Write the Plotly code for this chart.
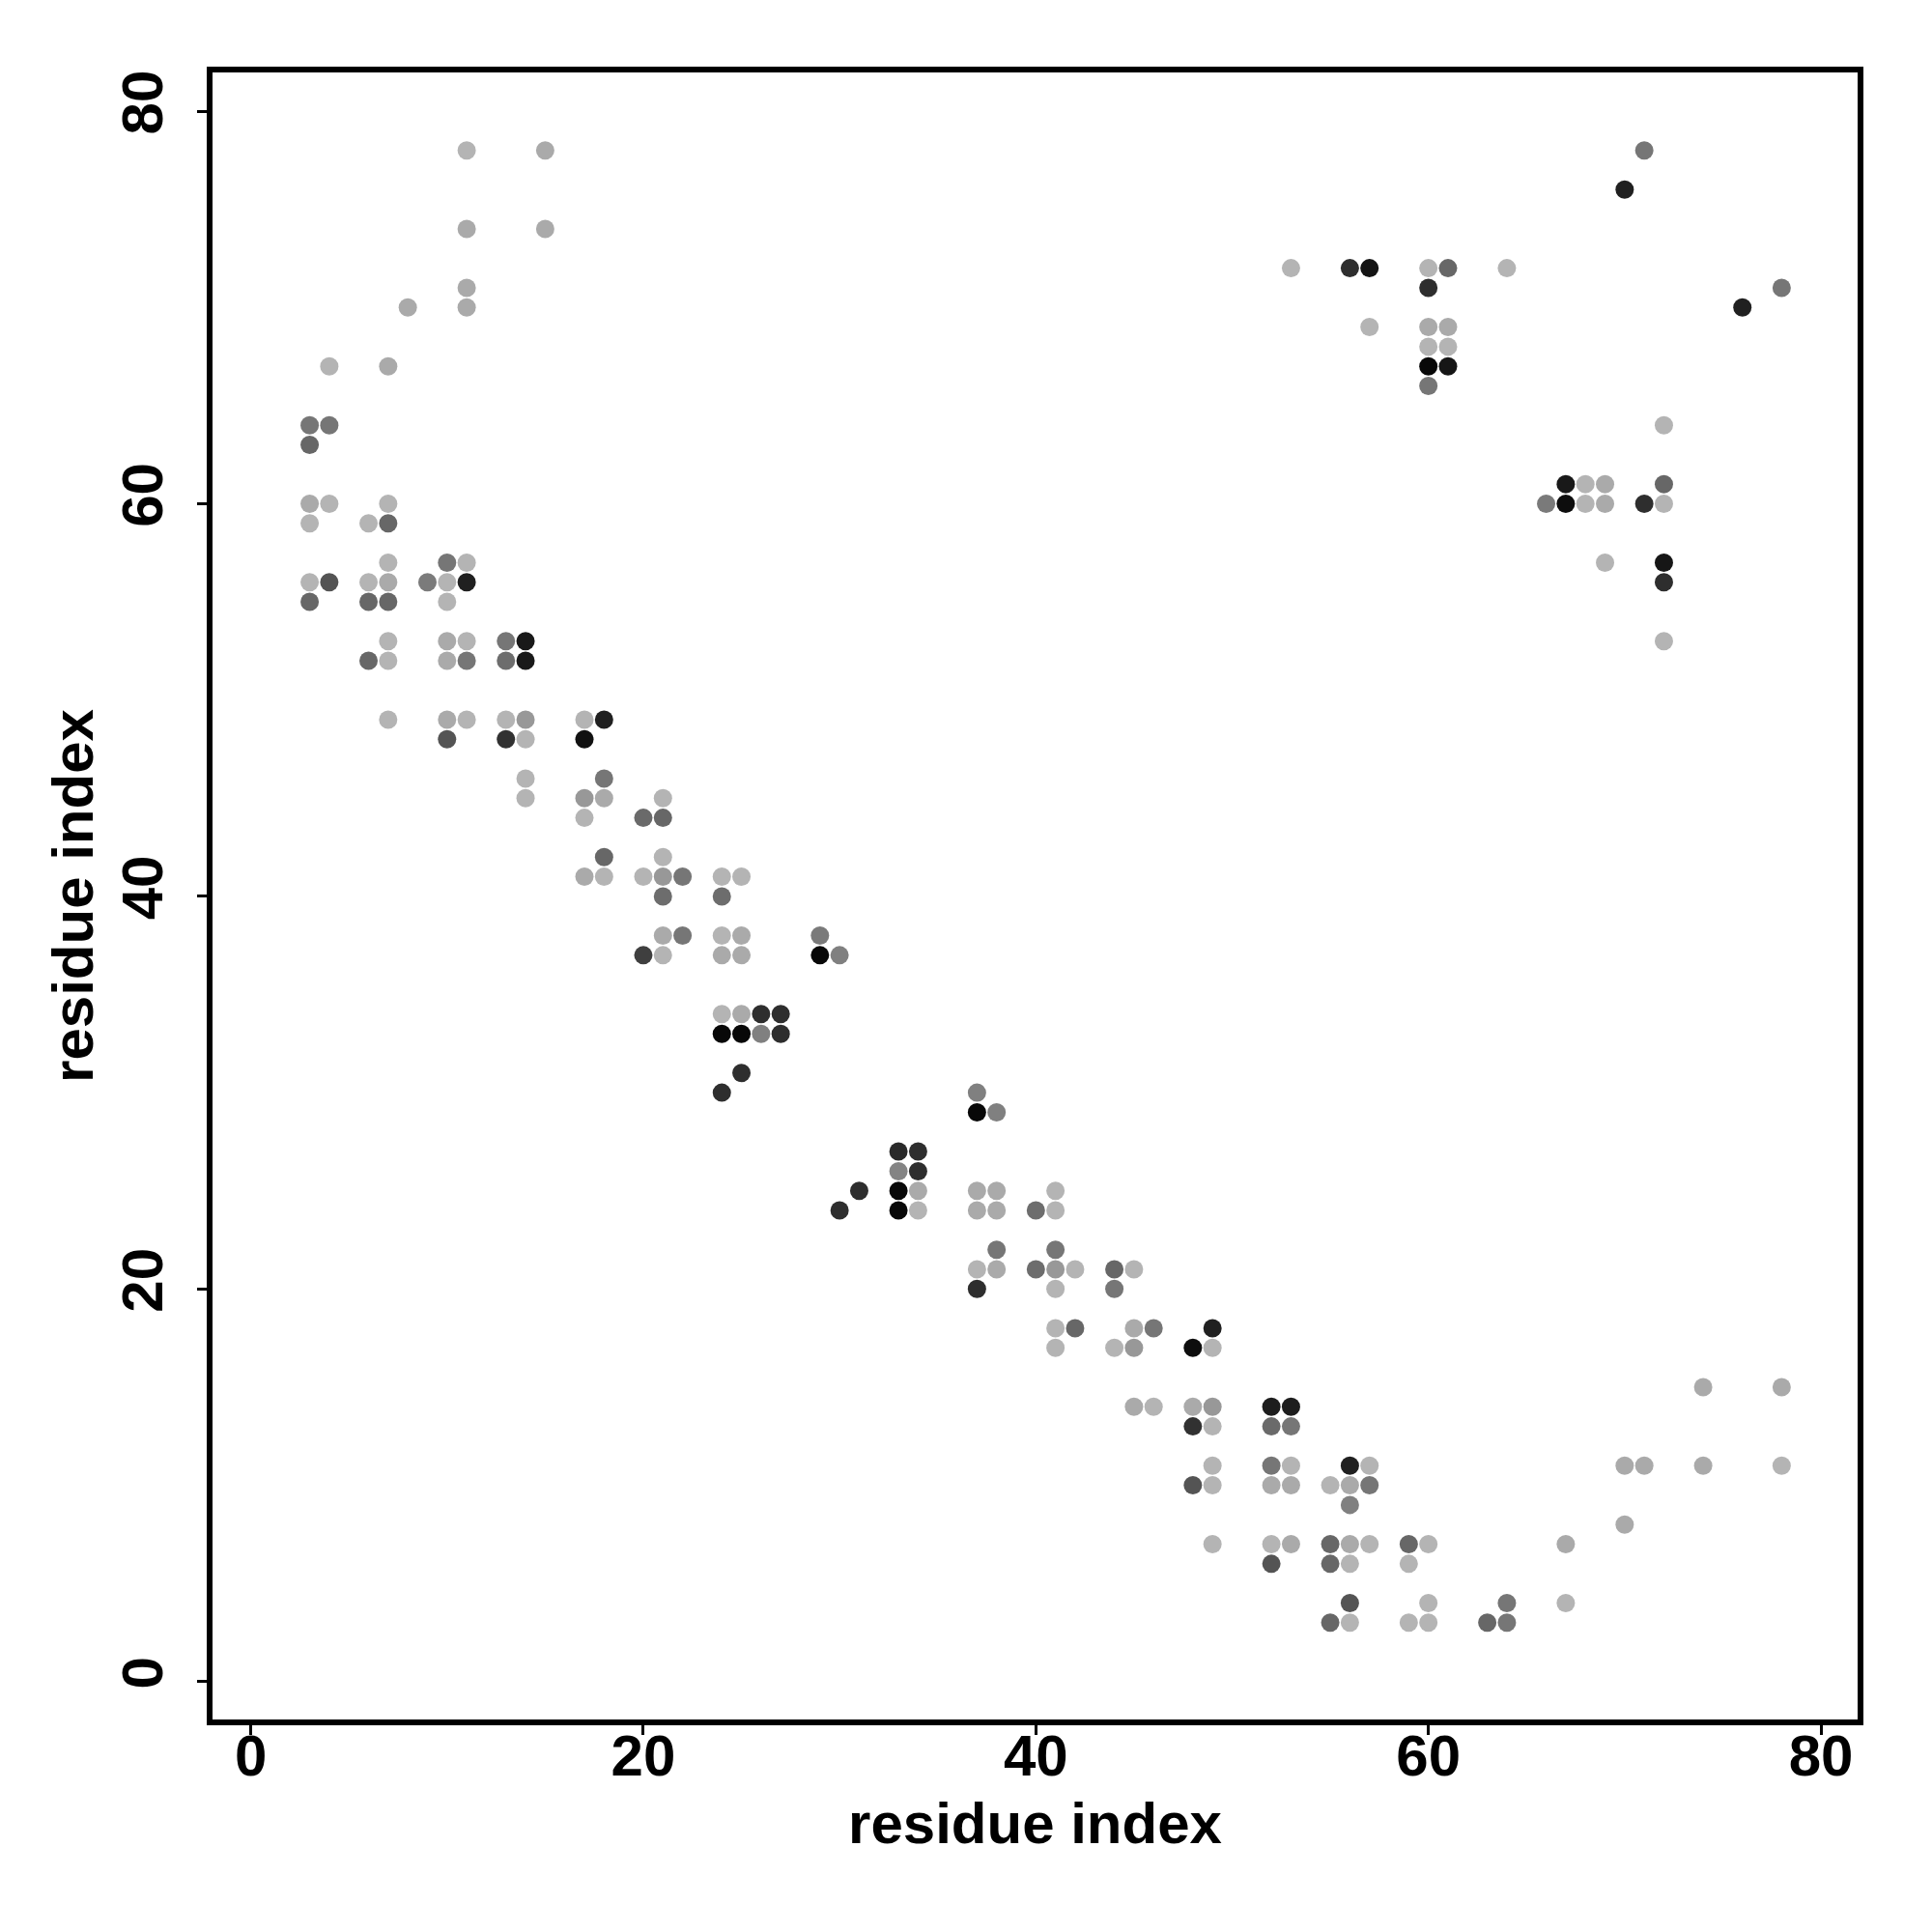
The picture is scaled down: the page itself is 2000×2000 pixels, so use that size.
import plotly.graph_objects as go

# residue pairs (i, j) and a contact score (0 = weak/light grey, 1 = strong/black)
res_i = [11, 15, 11, 15, 11, 11, 8, 4, 7, 3, 4, 3,
         3, 4, 3, 7, 6, 7,
         7, 3, 4, 3, 6, 7, 6, 7,
         10, 11, 9, 10, 11, 10,
         7, 6, 7,
         10, 11, 10, 11,
         13, 14, 13, 14,
         7, 10, 11, 10,
         13, 14, 13, 14,
         17, 18, 17,
         14, 14,
         18, 17, 18, 17,
         21, 20, 21,
         18, 17, 18,
         21, 20, 21, 22, 21,
         24, 25, 24,
         21, 22, 20, 21,
         24, 25, 24, 25,
         29, 29, 30,
         24, 25, 26, 27,
         24, 25, 26, 27,
         25, 24,
         37, 37, 38,
         33, 34, 33, 34, 33, 34, 33, 34,
         31, 30,
         37, 38, 37, 38,
         40, 41, 41,
         38, 37, 38, 37,
         41, 40, 41, 41, 42,
         44, 45, 44,
         41, 42, 41,
         45, 46, 44, 45,
         49, 48, 49,
         45, 46,
         48, 49, 48, 49,
         52, 53, 52, 53,
         49, 48, 49,
         52, 53, 52, 53,
         56, 57, 55, 56, 57, 56,
         49, 52, 53, 52,
         55, 56, 57, 55, 56,
         59, 60, 59,
         67, 56, 55, 56,
         60, 59, 60,
         64, 63, 64,
         67,
         74, 78, 70, 71, 74, 78, 70,
         71, 70, 53, 56, 57, 60, 61, 60, 64,
         57, 60, 61, 60, 61, 60, 61, 60,
         76, 78,
         72, 72, 71, 72,
         67, 68, 69, 66, 67, 68, 69,
         69, 72, 72, 72]

res_j = [78, 78, 74, 74, 71, 70, 70, 67, 67, 64, 64, 63,
         60, 60, 59, 60, 59, 59,
         57, 56, 56, 55, 56, 56, 55, 55,
         57, 57, 56, 56, 56, 55,
         53, 52, 52,
         53, 53, 52, 52,
         53, 53, 52, 52,
         49, 49, 49, 48,
         49, 49, 48, 48,
         49, 49, 48,
         46, 45,
         46, 45, 45, 44,
         45, 44, 44,
         42, 41, 41,
         42, 41, 41, 41, 40,
         41, 41, 40,
         38, 38, 37, 37,
         38, 38, 37, 37,
         38, 37, 37,
         34, 34, 34, 34,
         33, 33, 33, 33,
         31, 30,
         30, 29, 29,
         27, 27, 26, 26, 25, 25, 24, 24,
         25, 24,
         25, 25, 24, 24,
         24, 25, 24,
         22, 21, 21, 20,
         22, 21, 21, 20, 21,
         21, 21, 20,
         18, 18, 17,
         18, 18, 17, 17,
         18, 17, 17,
         14, 14,
         14, 14, 13, 13,
         14, 14, 13, 13,
         11, 10, 10,
         11, 11, 10, 10,
         11, 11, 10, 10, 10, 9,
         7, 7, 7, 6,
         7, 7, 7, 6, 6,
         7, 7, 6,
         7, 4, 3, 3,
         4, 3, 3,
         4, 3, 3,
         4,
         15, 15, 11, 11, 11, 11, 8,
         78, 76, 72, 72, 72, 72, 72, 71, 72,
         69, 69, 69, 68, 68, 67, 67, 66,
         70, 71,
         64, 61, 60, 60,
         61, 61, 61, 60, 60, 60, 60,
         57, 57, 56, 53]

score = [0.00, 0.06, 0.06, 0.06, 0.06, 0.06, 0.06, 0.00, 0.06, 0.36, 0.36, 0.45,
         0.06, 0.00, 0.00, 0.00, 0.00, 0.45,
         0.00, 0.00, 0.56, 0.45, 0.00, 0.06, 0.45, 0.45,
         0.36, 0.00, 0.33, 0.00, 0.86, 0.00,
         0.00, 0.45, 0.00,
         0.06, 0.00, 0.06, 0.36,
         0.36, 0.90, 0.41, 0.90,
         0.00, 0.06, 0.00, 0.56,
         0.00, 0.16, 0.76, 0.00,
         0.00, 0.86, 0.95,
         0.00, 0.00,
         0.36, 0.16, 0.06, 0.00,
         0.00, 0.43, 0.45,
         0.45, 0.06, 0.00,
         0.00, 0.00, 0.16, 0.36, 0.41,
         0.00, 0.00, 0.41,
         0.06, 0.36, 0.68, 0.00,
         0.00, 0.06, 0.06, 0.06,
         0.34, 1.00, 0.30,
         0.00, 0.06, 0.78, 0.78,
         1.00, 1.00, 0.30, 0.78,
         0.78, 0.78,
         0.30, 1.00, 0.30,
         0.80, 0.78, 0.28, 0.78, 1.00, 0.06, 1.00, 0.00,
         0.78, 0.78,
         0.06, 0.06, 0.06, 0.06,
         0.41, 0.00, 0.00,
         0.36, 0.00, 0.06, 0.78,
         0.36, 0.41, 0.16, 0.00, 0.00,
         0.45, 0.00, 0.36,
         0.00, 0.45, 0.00,
         0.06, 0.36, 0.00, 0.16,
         0.86, 0.97, 0.00,
         0.06, 0.00,
         0.06, 0.16, 0.76, 0.00,
         0.88, 0.88, 0.43, 0.36,
         0.00, 0.56, 0.00,
         0.36, 0.00, 0.06, 0.06,
         0.86, 0.00, 0.00, 0.06, 0.36, 0.30,
         0.00, 0.00, 0.06, 0.56,
         0.45, 0.06, 0.00, 0.45, 0.00,
         0.45, 0.00, 0.00,
         0.06, 0.56, 0.45, 0.00,
         0.00, 0.00, 0.00,
         0.36, 0.45, 0.36,
         0.00,
         0.06, 0.06, 0.06, 0.06, 0.06, 0.00, 0.06,
         0.36, 0.86, 0.00, 0.78, 0.93, 0.00, 0.45, 0.78, 0.00,
         0.00, 0.06, 0.06, 0.00, 0.00, 1.00, 0.92, 0.36,
         0.86, 0.36,
         0.00, 0.45, 0.78, 0.00,
         0.90, 0.00, 0.06, 0.34, 0.97, 0.00, 0.06,
         0.00, 0.92, 0.78, 0.00]

tick_vals = [0, 20, 40, 60, 80]
tick_text = ["0", "20", "40", "60", "80"]

FONT = "Liberation Sans, Arial, Helvetica, sans-serif"

fig = go.Figure(
    go.Scatter(
        x=res_i,
        y=res_j,
        mode="markers",
        marker=dict(
            size=19,
            color=score,
            cmin=0,
            cmax=1,
            colorscale=[[0, "rgb(180,180,180)"], [1, "rgb(8,8,8)"]],
            line=dict(width=0),
            showscale=False,
        ),
        hoverinfo="x+y",
    )
)

axis_common = dict(
    showgrid=False,
    zeroline=False,
    showline=True,
    linecolor="black",
    linewidth=6,
    mirror=True,
    ticks="outside",
    ticklen=10,
    tickwidth=3,
    tickcolor="black",
    tickvals=tick_vals,
    ticktext=tick_text,
    tickfont=dict(family=FONT, size=60, color="black", weight="bold"),
)

fig.update_layout(
    width=2000,
    height=2000,
    autosize=False,
    plot_bgcolor="white",
    paper_bgcolor="white",
    showlegend=False,
    margin=dict(l=212, r=85, t=67, b=228),
    xaxis=dict(
        axis_common,
        range=[-1.95, 81.87],
        ticklabelstandoff=-30,
        title=dict(text="residue index", font=dict(family=FONT, size=60, color="black", weight="bold"), standoff=18),
    ),
    yaxis=dict(
        axis_common,
        range=[-1.93, 81.97],
        tickangle=-90,
        ticklabelstandoff=12,
        title=dict(text="residue index", font=dict(family=FONT, size=60, color="black", weight="bold"), standoff=0),
    ),
)

fig.write_html("out.html")
